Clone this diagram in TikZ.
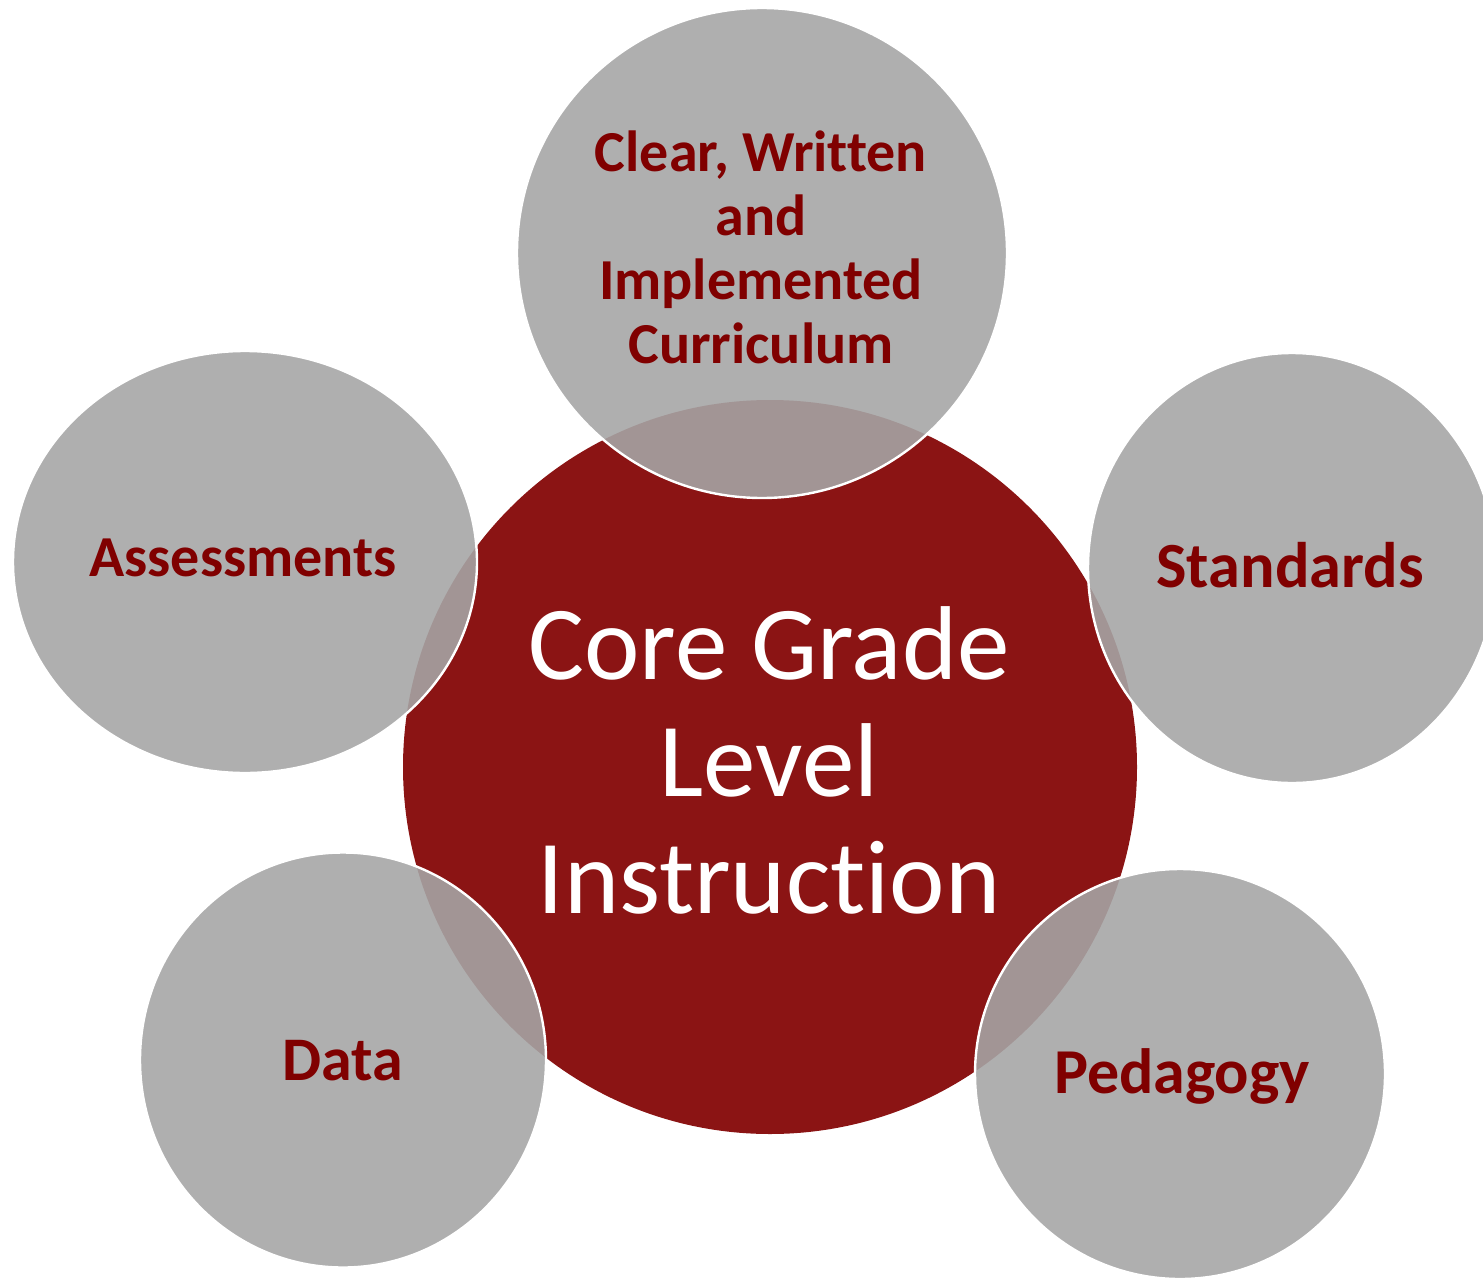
\documentclass[tikz,border=0pt]{standalone}
\usepackage{fontspec}
\setmainfont{Carlito}[Ligatures=NoCommon]
\definecolor{coreRed}{RGB}{139,20,20}
\definecolor{ringGray}{RGB}{165,165,165}
\definecolor{labelRed}{RGB}{128,0,0}
\tikzset{
  ring/.style={fill=ringGray, fill opacity=0.89, draw=white, line width=1.2pt},
  ringlabel/.style={text=labelRed, align=center, anchor=base},
}
\begin{document}
\begin{tikzpicture}
[x=0.5pt,y=-0.5pt]
\useasboundingbox (0,0) rectangle (1483,1279);
\fill [coreRed] (770,767) circle (183.5pt);
\draw [ring] (762,253) circle (122.5pt);
\draw [ring] (245,562) ellipse [x radius=116pt, y radius=105.5pt];
\draw [ring] (1292,568) ellipse [x radius=102pt, y radius=107.5pt];
\draw [ring] (343,1060) ellipse [x radius=101.5pt, y radius=103.75pt];
\draw [ring] (1180,1074) circle (102.5pt);
\node (core) [text=white, align=center, anchor=base, font=\fontsize{52.5}{58.3}\selectfont] at (769,913) {Core Grade\\Level\\Instruction};
\node (curriculum) [ringlabel, font=\bfseries\fontsize{29}{32}\selectfont] at (761,363) {Clear, Written\\and\\Implemented\\Curriculum};
\node (standards) [ringlabel, font=\bfseries\fontsize{32.2}{36}\selectfont] at (1290,587) {Standards};
\node (assessments) [ringlabel, font=\bfseries\fontsize{29}{32}\selectfont] at (243,576) {Assessments};
\node (data) [ringlabel, font=\bfseries\fontsize{31}{34}\selectfont] at (343,1080) {Data};
\node (pedagogy) [ringlabel, font=\bfseries\fontsize{32}{35}\selectfont] at (1182,1093) {Pedagogy};
\end{tikzpicture}
\end{document}
